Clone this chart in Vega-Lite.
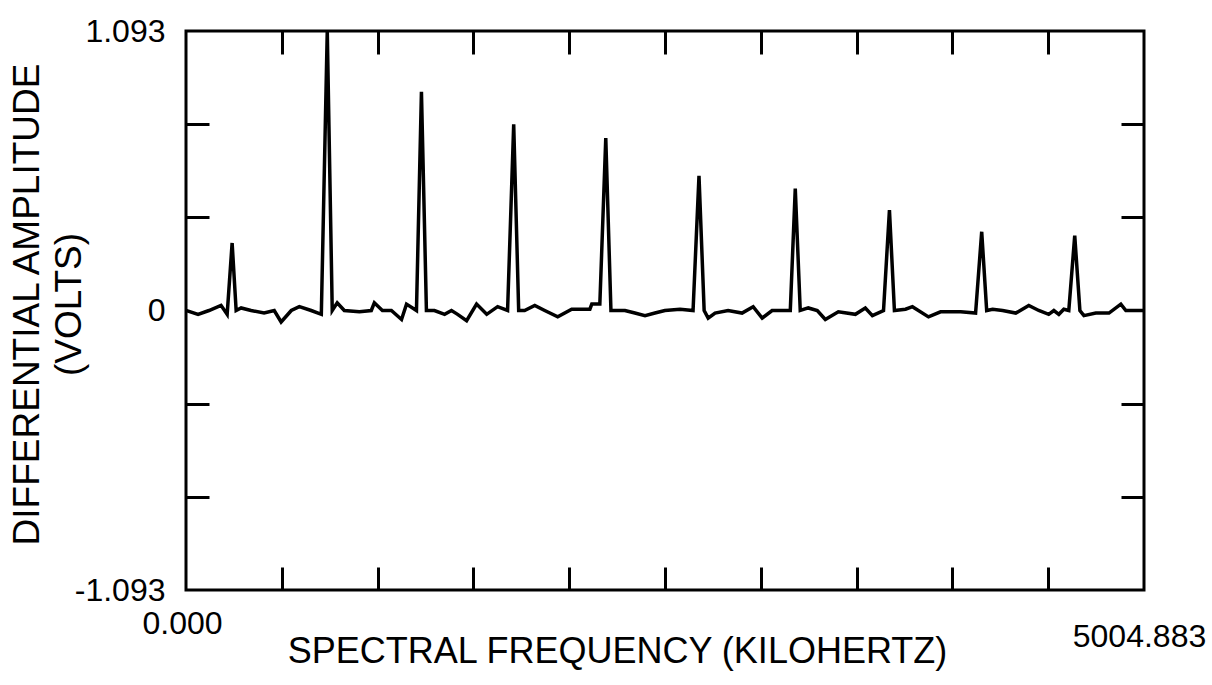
{
  "$schema": "https://vega.github.io/schema/vega-lite/v6.json",
  "width": 958,
  "height": 559,
  "autosize": "none",
  "padding": {"left": 186, "top": 31, "right": 68, "bottom": 95},
  "background": "white",
  "config": {
    "view": {"stroke": "black", "strokeWidth": 3},
    "axis": {
      "domain": false,
      "grid": false,
      "labelFont": "Liberation Sans",
      "titleFont": "Liberation Sans",
      "labelColor": "black",
      "titleColor": "black",
      "tickColor": "black",
      "tickWidth": 3,
      "labelFontSize": 32,
      "titleFontSize": 36,
      "titleFontWeight": "normal",
      "labelFlush": false,
      "labelOverlap": false
    }
  },
  "data": {
    "values": [
      {"f": 0, "v": 0}, {"f": 63, "v": -0.015}, {"f": 120, "v": 0}, {"f": 183, "v": 0.02}, {"f": 215, "v": -0.015},
      {"f": 241, "v": 0.264}, {"f": 262, "v": 0}, {"f": 288, "v": 0.01}, {"f": 340, "v": 0}, {"f": 408, "v": -0.01},
      {"f": 461, "v": 0}, {"f": 497, "v": -0.045}, {"f": 550, "v": 0}, {"f": 592, "v": 0.015}, {"f": 654, "v": 0},
      {"f": 707, "v": -0.015}, {"f": 738, "v": 1.093}, {"f": 764, "v": 0}, {"f": 790, "v": 0.03}, {"f": 827, "v": 0},
      {"f": 906, "v": -0.005}, {"f": 968, "v": 0}, {"f": 984, "v": 0.03}, {"f": 1026, "v": 0}, {"f": 1073, "v": 0},
      {"f": 1126, "v": -0.035}, {"f": 1152, "v": 0.025}, {"f": 1204, "v": 0}, {"f": 1230, "v": 0.855}, {"f": 1256, "v": 0},
      {"f": 1298, "v": 0}, {"f": 1351, "v": -0.015}, {"f": 1387, "v": 0}, {"f": 1419, "v": -0.015}, {"f": 1466, "v": -0.04},
      {"f": 1518, "v": 0.025}, {"f": 1571, "v": -0.015}, {"f": 1628, "v": 0.015}, {"f": 1680, "v": 0}, {"f": 1712, "v": 0.728},
      {"f": 1738, "v": 0}, {"f": 1769, "v": 0}, {"f": 1822, "v": 0.02}, {"f": 1874, "v": 0}, {"f": 1942, "v": -0.025},
      {"f": 2015, "v": 0.005}, {"f": 2110, "v": 0.005}, {"f": 2120, "v": 0.025}, {"f": 2162, "v": 0.025}, {"f": 2193, "v": 0.674},
      {"f": 2220, "v": 0}, {"f": 2293, "v": 0}, {"f": 2345, "v": -0.01}, {"f": 2398, "v": -0.02}, {"f": 2450, "v": -0.01},
      {"f": 2502, "v": 0}, {"f": 2581, "v": 0.005}, {"f": 2649, "v": 0}, {"f": 2680, "v": 0.527}, {"f": 2707, "v": 0},
      {"f": 2728, "v": -0.03}, {"f": 2764, "v": -0.01}, {"f": 2832, "v": 0}, {"f": 2905, "v": -0.01}, {"f": 2963, "v": 0.015},
      {"f": 3010, "v": -0.03}, {"f": 3062, "v": 0}, {"f": 3131, "v": 0}, {"f": 3157, "v": 0}, {"f": 3183, "v": 0.477},
      {"f": 3209, "v": 0}, {"f": 3251, "v": 0.01}, {"f": 3298, "v": 0}, {"f": 3340, "v": -0.035}, {"f": 3408, "v": -0.005},
      {"f": 3497, "v": -0.015}, {"f": 3549, "v": 0.01}, {"f": 3586, "v": -0.02}, {"f": 3644, "v": 0}, {"f": 3675, "v": 0.393},
      {"f": 3701, "v": 0}, {"f": 3759, "v": 0.005}, {"f": 3795, "v": 0.015}, {"f": 3879, "v": -0.025}, {"f": 3942, "v": -0.005},
      {"f": 4047, "v": -0.005}, {"f": 4125, "v": -0.01}, {"f": 4157, "v": 0.308}, {"f": 4183, "v": 0}, {"f": 4214, "v": 0.005},
      {"f": 4266, "v": 0}, {"f": 4335, "v": -0.01}, {"f": 4403, "v": 0.02}, {"f": 4455, "v": 0}, {"f": 4507, "v": -0.015},
      {"f": 4534, "v": 0}, {"f": 4560, "v": -0.015}, {"f": 4586, "v": 0.005}, {"f": 4612, "v": 0}, {"f": 4643, "v": 0.293},
      {"f": 4670, "v": 0}, {"f": 4691, "v": -0.02}, {"f": 4753, "v": -0.01}, {"f": 4822, "v": -0.01}, {"f": 4884, "v": 0.025},
      {"f": 4910, "v": 0}, {"f": 4978, "v": 0}, {"f": 5004.883, "v": 0}
    ]
  },
  "resolve": {"axis": {"x": "independent", "y": "independent"}},
  "layer": [
    {
      "mark": {"type": "line", "color": "black", "strokeWidth": 3.5, "clip": true},
      "encoding": {
        "x": {
          "field": "f", "type": "quantitative",
          "scale": {"domain": [0, 5004.883], "nice": false, "zero": false},
          "axis": {
            "orient": "bottom", "values": [0], "format": ".3f", "ticks": false,
            "labelPadding": 18, "labelOffset": -4, "labelAlign": "center",
            "title": "SPECTRAL FREQUENCY (KILOHERTZ)", "titleX": 431, "titleY": 61,
            "titleBaseline": "middle", "titleAlign": "center", "titleAnchor": "start"
          }
        },
        "y": {
          "field": "v", "type": "quantitative",
          "scale": {"domain": [-1.093, 1.093], "nice": false, "zero": false},
          "axis": {
            "orient": "left", "values": [-1.093, 0, 1.093],
            "labelExpr": "datum.value == 0 ? '0' : (datum.value > 0 ? '1.093' : '-1.093')",
            "ticks": false, "labelPadding": 21, "labelBaseline": "middle",
            "title": ["DIFFERENTIAL AMPLITUDE", "(VOLTS)"], "titleX": -159, "titleY": 273,
            "titleFontSize": 37,
            "titleBaseline": "middle", "titleAlign": "center", "titleAngle": 270, "titleLineHeight": 42, "titleAnchor": "start"
          }
        }
      }
    },
    {
      "mark": {"type": "line", "opacity": 0},
      "encoding": {
        "x": {
          "field": "f", "type": "quantitative",
          "axis": {"orient": "bottom", "values": [5004.883], "format": ".3f", "ticks": false, "labelPadding": 31, "labelOffset": -5, "labelAlign": "center", "title": null}
        },
        "y": {
          "field": "v", "type": "quantitative",
          "axis": {"orient": "left", "values": [-0.7287, -0.3643, 0.3643, 0.7287], "labels": false, "tickSize": -23, "title": null}
        }
      }
    },
    {
      "mark": {"type": "line", "opacity": 0},
      "encoding": {
        "x": {
          "field": "f", "type": "quantitative",
          "axis": {"orient": "bottom", "values": [500.488, 1000.977, 1501.465, 2001.953, 2502.442, 3002.93, 3503.418, 4003.906, 4504.395], "labels": false, "tickSize": -23, "title": null}
        },
        "y": {
          "field": "v", "type": "quantitative",
          "axis": {"orient": "right", "values": [-0.7287, -0.3643, 0.3643, 0.7287], "labels": false, "tickSize": -23, "title": null}
        }
      }
    },
    {
      "mark": {"type": "line", "opacity": 0},
      "encoding": {
        "x": {
          "field": "f", "type": "quantitative",
          "axis": {"orient": "top", "values": [500.488, 1000.977, 1501.465, 2001.953, 2502.442, 3002.93, 3503.418, 4003.906, 4504.395], "labels": false, "tickSize": -23, "title": null}
        },
        "y": {"field": "v", "type": "quantitative", "axis": null}
      }
    }
  ]
}
